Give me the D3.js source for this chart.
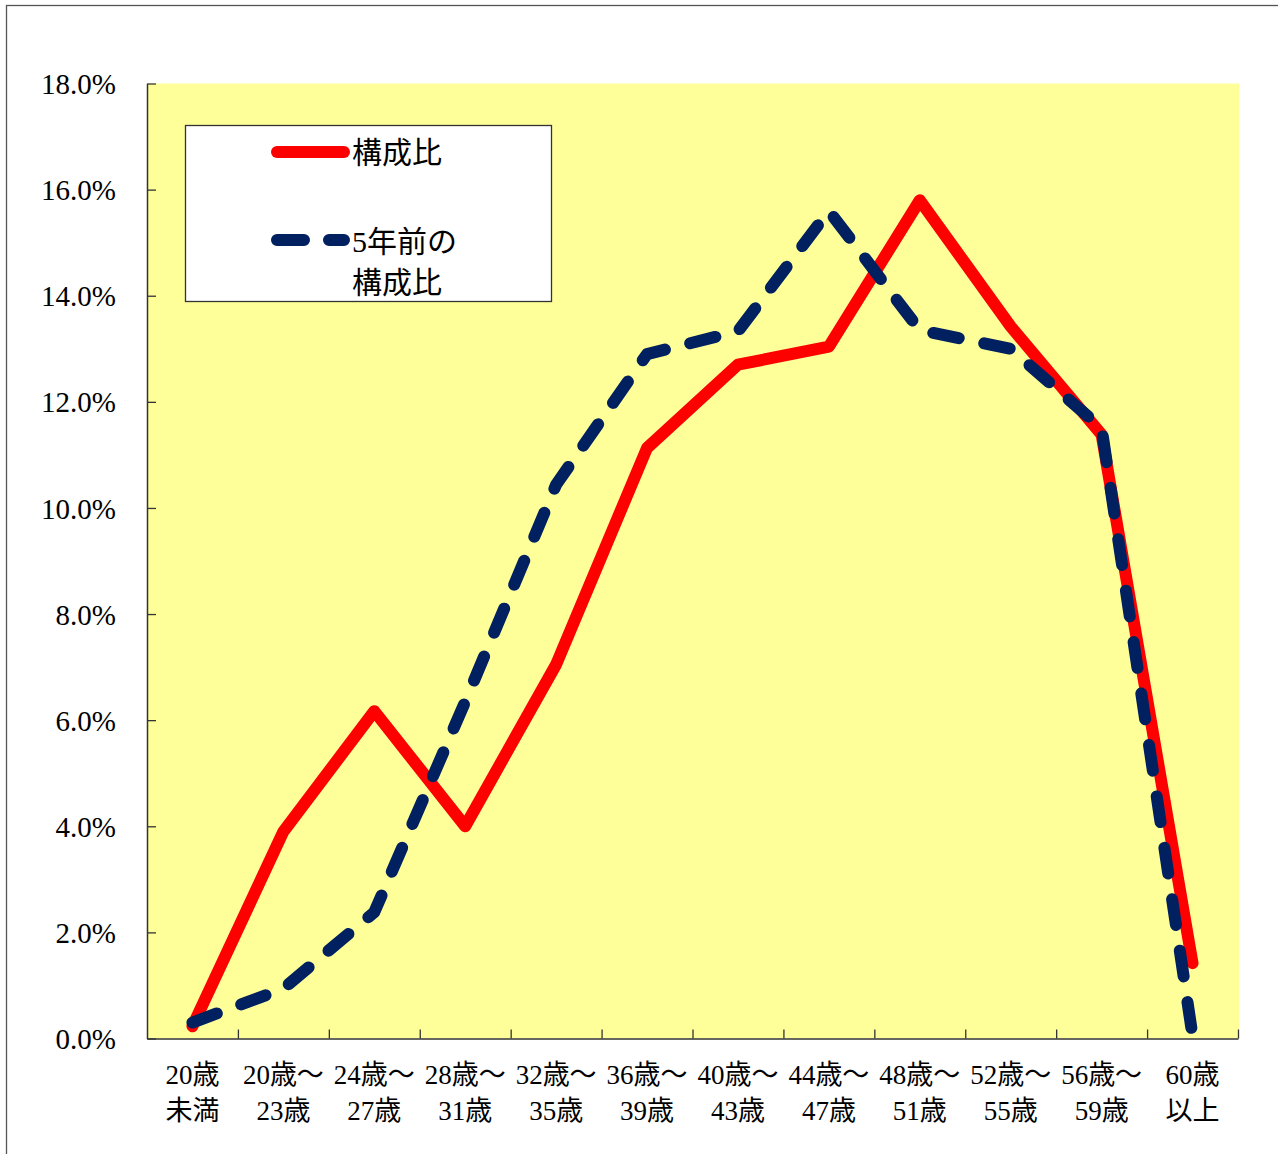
<!DOCTYPE html>
<html lang="ja">
<head>
<meta charset="utf-8">
<script src="https://cdn.jsdelivr.net/npm/d3@7/dist/d3.min.js"></script>
<style>
  html, body { margin: 0; padding: 0; background: #fff; }
  svg { display: block; }
</style>
</head>
<body>
<script>
// Age bands (two label lines each)
const categories = [
  "20歳\n未満", "20歳～\n23歳", "24歳～\n27歳", "28歳～\n31歳", "32歳～\n35歳", "36歳～\n39歳",
  "40歳～\n43歳", "44歳～\n47歳", "48歳～\n51歳", "52歳～\n55歳", "56歳～\n59歳", "60歳\n以上"
];
// Share of each age band (%)
const composition = [0.23, 3.9, 6.17, 4.0, 7.05, 11.13, 12.7, 13.04, 15.8, 13.42, 11.38, 1.42];
// Share of each age band five years earlier (%)
const compositionPrev = [0.3, 0.94, 2.38, 6.35, 10.44, 12.9, 13.33, 15.6, 13.35, 13.0, 11.5, 0.05];
// Y axis ticks (%)
const yTicks = [0, 2, 4, 6, 8, 10, 12, 14, 16, 18];
const seriesNames = ["構成比", "5年前の\n構成比"];

const FONT = "'Liberation Serif', 'Times New Roman', 'Noto Sans CJK JP', serif";
const W = 1278, H = 1154;
const plot = { left: 147, right: 1238, top: 83.5, bottom: 1038.5 };

const svg = d3.select("body").append("svg").attr("width", W).attr("height", H);

// outer frame
svg.append("rect")
  .attr("x", 6.5).attr("y", 5.5).attr("width", W + 20).attr("height", H + 20)
  .attr("fill", "#fff").attr("stroke", "#555").attr("stroke-width", 1.3);

const x = d3.scaleBand().domain(categories).range([plot.left, plot.right]).padding(0);
const xEdge = d3.scaleLinear().domain([0, categories.length]).range([plot.left, plot.right]);
const y = d3.scaleLinear().domain([0, 18]).range([plot.bottom, plot.top]);
const cx = c => x(c) + x.bandwidth() / 2;

// plot background
svg.append("rect")
  .attr("x", plot.left).attr("y", plot.top)
  .attr("width", plot.right - plot.left + 1).attr("height", plot.bottom - plot.top)
  .attr("fill", "#FFFF99");

// y axis
const yAxis = svg.append("g")
  .attr("transform", `translate(${plot.left},0)`)
  .call(d3.axisLeft(y).tickValues(yTicks).tickSizeInner(-9).tickSizeOuter(0)
    .tickFormat(d => d.toFixed(1) + "%"));
yAxis.attr("font-family", null).attr("font-size", null);
yAxis.select(".domain").attr("stroke", "#333").attr("stroke-width", 1.5);
yAxis.selectAll(".tick line").attr("stroke", "#333").attr("stroke-width", 1.3);
yAxis.selectAll(".tick text")
  .attr("x", -31).attr("dy", "0.35em").attr("fill", "#000")
  .style("font-family", FONT).style("font-size", "29px");

// x axis: ticks on band boundaries
const xAxis = svg.append("g")
  .attr("transform", `translate(0,${plot.bottom})`)
  .call(d3.axisBottom(xEdge).tickValues(d3.range(1, categories.length + 1))
    .tickSizeInner(-9).tickSizeOuter(0).tickFormat(""));
xAxis.select(".domain").attr("stroke", "#333").attr("stroke-width", 1.5);
xAxis.selectAll(".tick line").attr("stroke", "#333").attr("stroke-width", 1.3);

// category labels
const labels = svg.append("g");
categories.forEach(c => {
  const t = labels.append("text")
    .attr("text-anchor", "middle")
    .attr("fill", "#000")
    .style("font-family", FONT)
    .style("font-size", "27px");
  c.split("\n").forEach((line, i) => {
    t.append("tspan").attr("x", cx(c)).attr("y", 1084 + i * 36).text(line);
  });
});

// series lines
const line = d3.line()
  .x((d, i) => cx(categories[i]))
  .y(d => y(d));

svg.append("path")
  .datum(composition)
  .attr("d", line)
  .attr("fill", "none")
  .attr("stroke", "#FF0000")
  .attr("stroke-width", 12)
  .attr("stroke-linejoin", "round")
  .attr("stroke-linecap", "round");

svg.append("path")
  .datum(compositionPrev)
  .attr("d", line)
  .attr("fill", "none")
  .attr("stroke", "#002060")
  .attr("stroke-width", 12)
  .attr("stroke-linejoin", "round")
  .attr("stroke-linecap", "round")
  .attr("stroke-dasharray", "26,26");

// legend
const lg = svg.append("g");
lg.append("rect")
  .attr("x", 185.5).attr("y", 125.5).attr("width", 366).attr("height", 176)
  .attr("fill", "#fff").attr("stroke", "#333").attr("stroke-width", 1.3);

lg.append("line")
  .attr("x1", 277).attr("x2", 344).attr("y1", 152).attr("y2", 152)
  .attr("stroke", "#FF0000").attr("stroke-width", 12).attr("stroke-linecap", "round");
lg.append("line")
  .attr("x1", 277).attr("x2", 344).attr("y1", 240).attr("y2", 240)
  .attr("stroke", "#002060").attr("stroke-width", 12).attr("stroke-linecap", "round")
  .attr("stroke-dasharray", "27,25");

const legendRows = [{ name: seriesNames[0], y: 152 }, { name: seriesNames[1], y: 241 }];
legendRows.forEach(r => {
  const t = lg.append("text")
    .attr("fill", "#000")
    .style("font-family", FONT)
    .style("font-size", "30px");
  r.name.split("\n").forEach((line, i) => {
    t.append("tspan").attr("x", 352).attr("y", r.y + i * 41).attr("dy", "0.36em").text(line);
  });
});
</script>
</body>
</html>
